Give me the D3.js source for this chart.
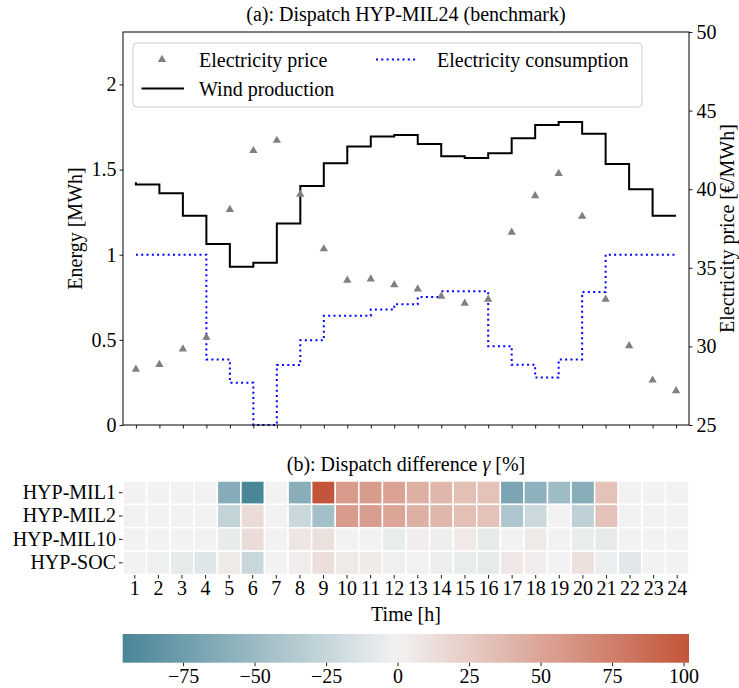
<!DOCTYPE html>
<html><head><meta charset="utf-8">
<script src="https://cdn.jsdelivr.net/npm/d3@7"></script>
<style>
body{margin:0;background:#fff}
text{font-family:"Liberation Serif","Times New Roman",serif;font-size:20px;fill:#000}
</style>
</head><body>
<svg id="c" width="739" height="688"></svg>
<script>
// ---------- data ----------
const hours = [1,2,3,4,5,6,7,8,9,10,11,12,13,14,15,16,17,18,19,20,21,22,23,24];
const windProduction = [1.426,1.412,1.361,1.229,1.063,0.930,0.953,1.184,1.404,1.537,1.635,1.695,
                        1.703,1.650,1.578,1.568,1.596,1.684,1.762,1.779,1.711,1.533,1.385,1.229];
const consumption = [1.0,1.0,1.0,1.0,0.385,0.248,0.0,0.352,0.498,0.641,0.641,0.678,
                     0.709,0.752,0.785,0.785,0.463,0.354,0.279,0.385,0.781,1.0,1.0,1.0];
const price = [28.54,28.84,29.83,30.57,38.71,42.45,43.10,39.68,36.20,34.20,34.28,33.92,
               33.65,33.19,32.74,33.00,37.26,39.58,40.99,38.27,33.00,30.04,27.85,27.17];
const energyTicks = [0,0.5,1,1.5,2];
const priceTicks = [25,30,35,40,45,50];
const models = ["HYP-MIL1","HYP-MIL2","HYP-MIL10","HYP-SOC"];
const gammaMIL1  = [0,0,0,0,-62,-96.1,0,-60,101.9,57,56,51,43,38,33,31,-68,-57,-48,-61,31,0,0,0];
const gammaMIL2  = [0,0,0,0,-27,15,0,-23,-45,56,55,50,43,38,33,31,-39,-22,0,-29,31,0,0,0];
const gammaMIL10 = [0,0,0,0,-6,14,0,8,12,0,0,-5,3,-3,6,-7,0,6,0,-5,-7,0,0,0];
const gammaSOC   = [0,-2,-7,-11,6,-24,0,4,13,6,5,2,-1,-3,-5,-7,7,3,0,11,-4,-9,0,0];
const colorbarTicks = [-75,-50,-25,0,25,50,75,100];

const gammaRows = [gammaMIL1, gammaMIL2, gammaMIL10, gammaSOC];

// ---------- setup ----------
const svg = d3.select("#c");
svg.append("rect").attr("width",739).attr("height",688).attr("fill","#fff");

// ================= (a) top chart =================
const L = 123, R = 689, T = 32, B = 425;
const x = d3.scaleLinear().domain([0.45, 24.55]).range([L, R]);
const yE = d3.scaleLinear().domain([0, 2.308]).range([B, T]);
const yP = d3.scaleLinear().domain([25, 50]).range([B, T]);

svg.append("text").attr("x",(L+R)/2).attr("y",14).attr("text-anchor","middle")
   .attr("dominant-baseline","central").text("(a): Dispatch HYP-MIL24 (benchmark)");

const gA = svg.append("g");

// axes
const axL = gA.append("g").attr("transform",`translate(${L},0)`)
  .call(d3.axisLeft(yE).tickValues(energyTicks).tickSize(3.5).tickPadding(3).tickFormat(d3.format("")));
const axR = gA.append("g").attr("transform",`translate(${R},0)`)
  .call(d3.axisRight(yP).tickValues(priceTicks).tickSize(3.5).tickPadding(4));
const axB = gA.append("g").attr("transform",`translate(0,${B})`)
  .call(d3.axisBottom(x).tickValues(hours).tickSize(3.5).tickFormat(""));
[axL,axR,axB].forEach(a=>{
  a.select(".domain").remove();
  a.selectAll("text").style("font-size","20px").style("font-family",'"Liberation Serif",serif');
  a.selectAll(".tick line").attr("stroke","#000").attr("stroke-width",0.9);
});

// lines
const stepLine = (yScale) => d3.line().x((d,i)=>x(hours[i])).y(d=>yScale(d)).curve(d3.curveStepBefore);
gA.append("path").datum(consumption).attr("d",stepLine(yE)).attr("fill","none")
  .attr("stroke","#0000ff").attr("stroke-width",2).attr("stroke-dasharray","2,3.3");
gA.append("path").datum(windProduction).attr("d",stepLine(yE)).attr("fill","none")
  .attr("stroke","#000").attr("stroke-width",2);

// price markers
const tri = d3.symbol().type(d3.symbolTriangle).size(30);
gA.selectAll("path.pm").data(price).enter().append("path").attr("class","pm")
  .attr("d",tri).attr("fill","#808080")
  .attr("transform",(d,i)=>`translate(${x(hours[i])},${yP(d)})`);

// frame
gA.append("rect").attr("x",L).attr("y",T).attr("width",R-L).attr("height",B-T)
  .attr("fill","none").attr("stroke","#000").attr("stroke-width",1);

// axis labels
svg.append("text").attr("transform",`translate(75,${(T+B)/2}) rotate(-90)`)
  .attr("text-anchor","middle").attr("dominant-baseline","central").text("Energy [MWh]");
svg.append("text").attr("transform",`translate(727,${(T+B)/2}) rotate(-90)`)
  .attr("text-anchor","middle").attr("dominant-baseline","central").text("Electricity price [€/MWh]");

// legend
const lg = svg.append("g");
lg.append("rect").attr("x",133).attr("y",43).attr("width",509).attr("height",64).attr("rx",4)
  .attr("fill","#fff").attr("fill-opacity",0.8).attr("stroke","#cccccc").attr("stroke-width",1);
lg.append("path").attr("d",tri).attr("fill","#808080").attr("transform","translate(162,59.5)");
lg.append("text").attr("x",199).attr("y",59.5).attr("dominant-baseline","central").text("Electricity price");
lg.append("line").attr("x1",141.5).attr("x2",184).attr("y1",88.5).attr("y2",88.5)
  .attr("stroke","#000").attr("stroke-width",2);
lg.append("text").attr("x",199).attr("y",88.5).attr("dominant-baseline","central").text("Wind production");
lg.append("line").attr("x1",376).attr("x2",418).attr("y1",59.5).attr("y2",59.5)
  .attr("stroke","#0000ff").attr("stroke-width",2).attr("stroke-dasharray","2,3.3");
lg.append("text").attr("x",437).attr("y",59.5).attr("dominant-baseline","central").text("Electricity consumption");

// ================= (b) heatmap =================
const hT = 481, hB = 574.5;
const hx = d3.scaleBand().domain(hours).range([L, R]);
const hy = d3.scaleBand().domain(models).range([hT, hB]);

const t2 = svg.append("text").attr("x",(L+R)/2).attr("y",464).attr("text-anchor","middle")
   .attr("dominant-baseline","central");
t2.append("tspan").text("(b): Dispatch difference ");
t2.append("tspan").attr("font-style","italic").text("γ");
t2.append("tspan").text(" [%]");

const allG = gammaRows.flat();
const gMin = d3.min(allG), gMax = d3.max(allG);
const vr = Math.max(Math.abs(gMin), Math.abs(gMax));
const negI = d3.interpolateRgb("#f2f2f2","#3f7f93");
const posI = d3.interpolateRgb("#f2f2f2","#c3553a");
const colorOf = v => v < 0 ? negI(-v/vr) : posI(v/vr);

const cells = [];
gammaRows.forEach((row,r)=>row.forEach((v,c)=>cells.push({m:models[r],h:hours[c],v})));
svg.append("g").selectAll("rect").data(cells).enter().append("rect")
  .attr("x",d=>hx(d.h)).attr("y",d=>hy(d.m))
  .attr("width",hx.bandwidth()).attr("height",hy.bandwidth())
  .attr("fill",d=>colorOf(d.v)).attr("stroke","#fff").attr("stroke-width",1.5);

const hAxL = svg.append("g").attr("transform",`translate(${L-0.5},0)`)
  .call(d3.axisLeft(hy).tickSize(3.5).tickPadding(3));
const hAxB = svg.append("g").attr("transform",`translate(0,${hB+0.5})`)
  .call(d3.axisBottom(hx).tickSize(3.5).tickPadding(2));
[hAxL,hAxB].forEach(a=>{
  a.select(".domain").remove();
  a.selectAll("text").style("font-size","20px").style("font-family",'"Liberation Serif",serif');
  a.selectAll(".tick line").attr("stroke","#000").attr("stroke-width",0.9);
});
svg.append("text").attr("x",(L+R)/2).attr("y",614).attr("text-anchor","middle")
   .attr("dominant-baseline","central").text("Time [h]");

// ================= colorbar =================
const cbT = 634, cbB = 662.7;
const cx = d3.scaleLinear().domain([gMin, gMax]).range([122.7, 689]);
const defs = svg.append("defs");
const grad = defs.append("linearGradient").attr("id","cbg").attr("x1","0%").attr("x2","100%");
d3.range(0, 1.0001, 0.02).forEach(f=>{
  const v = gMin + f*(gMax-gMin);
  grad.append("stop").attr("offset",(f*100)+"%").attr("stop-color",colorOf(v));
});
svg.append("rect").attr("x",cx.range()[0]).attr("y",cbT).attr("width",cx.range()[1]-cx.range()[0])
  .attr("height",cbB-cbT).attr("fill","url(#cbg)");
const cAx = svg.append("g").attr("transform",`translate(0,${cbB})`)
  .call(d3.axisBottom(cx).tickValues(colorbarTicks).tickSize(3.5).tickPadding(3));
cAx.select(".domain").remove();
cAx.selectAll("text").style("font-size","20px").style("font-family",'"Liberation Serif",serif');
cAx.selectAll(".tick line").attr("stroke","#000").attr("stroke-width",0.9);
</script>
</body></html>
